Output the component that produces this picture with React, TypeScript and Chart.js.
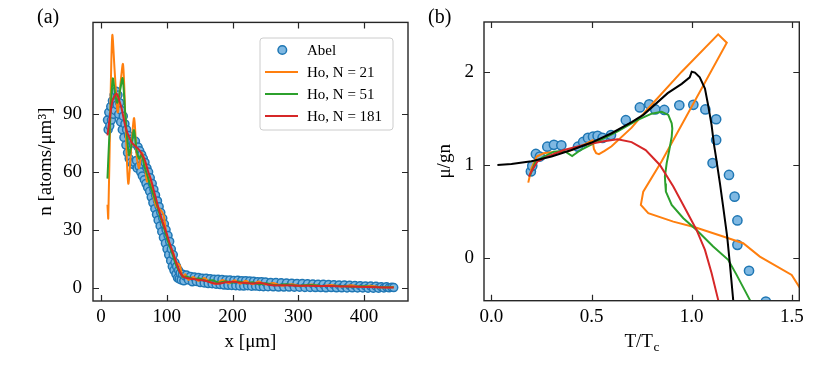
import React, { useEffect, useRef } from "react";
import { Chart, registerables } from "chart.js";
Chart.register(...registerables);

const FONT = "'Liberation Serif', 'Times New Roman', Times, serif";
const ORANGE = "#ff7f0e";
const GREEN = "#2ca02c";
const RED = "#d62728";
const BLUE_EDGE = "#1f77b4";
const BLUE_FILL = "#7fb8e2";
const FRAME = "#262626";

// ---------- Panel (a) data ----------
const abelX = [10, 11, 12, 13.5, 15, 16, 17.5, 19, 20, 21.5, 23, 24.5, 26, 27, 28.5, 30, 31, 32.5, 34, 35, 36.5, 38, 39, 40.5, 42, 43, 44.5, 46, 47, 48.5, 50, 51, 52.5, 54, 55, 56.5, 58, 59, 60.5, 62, 63, 64.5, 66, 67, 68.5, 70, 71, 72.5, 74, 75, 76.5, 78, 79, 80.5, 82, 83, 84.5, 86, 87, 88.5, 90, 91, 92.5, 94, 95, 96.5, 98, 99, 100.5, 102, 103, 104.5, 106, 107, 108.5, 110, 111, 112.5, 114, 115, 116.5, 118, 119, 120.5, 122, 124, 126, 128,
  130, 133, 136, 139, 142, 145, 148, 151, 154, 157, 160, 163, 166, 169, 172, 175, 178, 181, 184, 187, 190, 193, 196, 199, 202, 205, 208, 211, 214, 217, 220, 223, 226, 229, 232, 235, 238, 241, 244, 247, 250, 254, 258, 262, 266, 270, 274, 278, 282, 286, 290, 294, 298, 302, 306, 310, 314, 318, 322, 326, 330, 334, 338, 342, 346, 350, 354, 358, 362, 366, 370, 374, 378, 382, 386, 390, 394, 398, 402, 406, 410, 414, 418, 422, 426, 430, 434, 438, 442, 445];
const abelY = [87, 82, 91, 84, 94, 87, 97, 90, 100, 92, 102, 95, 100, 90, 96, 86, 92, 82, 89, 78, 85, 74, 82, 70, 79, 67, 77, 65, 76, 64, 75, 65, 76, 66, 62, 73, 63, 71, 60, 69, 58, 67, 56, 65, 54, 62, 52, 60, 50, 57, 47, 54, 44, 51, 41, 48, 38, 45, 35, 42, 32, 39, 29, 36, 26, 33, 23, 30, 20, 27, 17, 24, 14, 20, 11, 17, 9, 13, 7, 11, 5, 9, 4.5, 7.5, 4, 7, 3.5, 6,
  6.5, 4.0, 5.8, 3.0, 5.5, 3.2, 5.3, 2.6, 4.9, 2.4, 4.8, 2.1, 4.6, 2.0, 4.4, 1.8, 4.3, 1.6, 4.2, 1.3, 3.9, 1.2, 4.0, 1.1, 3.7, 1.0, 3.8, 0.9, 3.6, 0.8, 3.5, 1.0, 3.4, 0.7, 3.3, 0.8, 3.1, 0.6, 3.0, 0.5, 2.9, 0.5, 2.7, 0.4, 2.6, 0.3, 2.5, 0.3, 2.4, 0.3, 2.3, 0.2, 2.2, 0.2, 2.1, 0.1, 2.0, 0.1, 1.9, 0.0, 1.8, 0.0, 1.7, -0.1, 1.6, 0.0, 1.5, -0.1, 1.4, -0.1, 1.3, -0.2, 1.2, -0.1, 1.1, -0.2, 1.0, -0.2, 0.9, -0.3, 0.8, -0.3, 0.7, -0.3, 0.5, -0.2, 0.4, -0.1, 0.2, 0.0];

const ho21X = [10, 11.2, 14, 17.3, 21, 25.5, 29.5, 33.6, 37.5, 41.6, 46, 50.5, 54.5, 58, 62, 66, 70, 74, 79, 84, 89, 95, 100, 105, 110, 115, 120, 124, 128, 133, 140, 148, 157, 166, 175, 185, 195, 203, 212, 220, 230, 240, 250, 262, 275, 290, 305, 320, 335, 350, 365, 380, 395, 410, 425, 445];
const ho21Y = [43, 36, 85, 131, 112, 91, 105, 116, 85, 54, 72, 88, 68, 62, 70, 66, 55, 58, 49, 42, 41, 38, 27, 22, 18, 13, 11.5, 5.5, 7, 4, 5.5, 3.5, 5, 2.8, 2, 4, 2.2, 3.8, 2, 3.5, 1.8, 3.2, 1.6, 2.4, 1, 1.8, 0.8, 1.6, 0.7, 1.4, 0.6, 1.2, 0.5, 1.0, 0.2, 0.3];

const ho51X = [10, 13, 18, 21.5, 25, 29, 33, 37, 42.7, 46.5, 50.3, 54, 58, 62, 66, 70, 75, 80, 85, 90, 95, 100, 105, 110, 115, 120, 125, 130, 140, 150, 160, 170, 180, 190, 200, 210, 220, 230, 240, 250, 265, 280, 300, 320, 340, 360, 380, 400, 420, 445];
const ho51Y = [56.6, 80, 108.5, 101, 96, 102, 108.7, 90, 68.9, 74, 81.8, 72, 67, 69, 63, 59, 53, 48, 43, 37, 32, 26, 21, 16, 11, 8, 5.5, 5.8, 4.5, 4.8, 3.5, 3.8, 2.5, 3.3, 2.6, 3.2, 2.2, 2.8, 1.8, 2.3, 1.3, 1.8, 1.0, 1.4, 0.8, 1.0, 0.5, 0.7, 0.2, 0.2];

const ho181X = [10, 13, 17, 20.5, 24, 28, 31.6, 35, 39, 43, 46.8, 52, 56.8, 62, 67, 72, 77, 80, 87, 93, 100, 105, 110, 115, 120, 125, 130, 140, 150, 160, 176, 190, 201, 215, 230, 245, 260, 280, 300, 330, 360, 390, 420, 445];
const ho181Y = [79, 87, 96, 99.5, 100.7, 97, 92.9, 87, 81.5, 78, 75.4, 73.5, 72, 69.5, 66, 60, 55, 51, 42, 35, 28, 22.5, 17.6, 12.5, 8.1, 5.8, 5, 4.5, 4, 3.4, 2, 2.8, 3, 2.5, 2.2, 2.3, 1.2, 1.2, 1, 0.9, 0.7, 0.5, 0.2, 0];

const aXTicks = [0, 100, 200, 300, 400];
const aYTicks = [0, 30, 60, 90];
const seriesLabels = ["Abel", "Ho, N = 21", "Ho, N = 51", "Ho, N = 181"];

// ---------- Panel (b) data ----------
const bAbelX = [0.197, 0.204, 0.222, 0.242, 0.279, 0.312, 0.349, 0.432, 0.458, 0.482, 0.507, 0.53, 0.555, 0.597, 0.671, 0.741, 0.788, 0.818, 0.863, 0.938, 1.008, 1.068, 1.122, 1.122, 1.104, 1.186, 1.214, 1.228, 1.228, 1.286, 1.37];
const bAbelY = [0.93, 0.99, 1.118, 1.09, 1.196, 1.216, 1.21, 1.196, 1.247, 1.29, 1.303, 1.312, 1.29, 1.32, 1.48, 1.617, 1.65, 1.595, 1.59, 1.64, 1.645, 1.595, 1.49, 1.268, 1.02, 0.893, 0.66, 0.405, 0.143, -0.135, -0.465];

const b21X = [0.184, 0.2, 0.226, 0.26, 0.31, 0.375, 0.425, 0.475, 0.505, 0.512, 0.523, 0.537, 0.565, 0.6, 0.7, 0.78, 0.95, 1.132, 1.175, 0.85, 0.758, 0.746, 0.783, 0.908, 1.016, 1.157, 1.257, 1.34, 1.499, 1.54];
const b21Y = [0.81, 0.964, 1.09, 1.125, 1.14, 1.14, 1.18, 1.232, 1.265, 1.17, 1.125, 1.115, 1.15, 1.2, 1.4, 1.6, 2.0, 2.4, 2.31, 1.04, 0.714, 0.571, 0.482, 0.392, 0.332, 0.232, 0.16, 0.017, -0.179, -0.32];

const b51X = [0.192, 0.22, 0.262, 0.312, 0.362, 0.403, 0.445, 0.528, 0.628, 0.728, 0.8, 0.85, 0.883, 0.9, 0.903, 0.9, 0.888, 0.875, 0.866, 0.868, 0.871, 0.9, 0.958, 1.024, 1.107, 1.182, 1.224, 1.29, 1.3];
const b51Y = [0.882, 1.035, 1.09, 1.143, 1.153, 1.096, 1.16, 1.25, 1.357, 1.48, 1.55, 1.57, 1.536, 1.447, 1.39, 1.3, 1.16, 1.02, 0.875, 0.8, 0.714, 0.571, 0.428, 0.303, 0.125, -0.018, -0.179, -0.447, -0.49];

const b181X = [0.187, 0.204, 0.229, 0.279, 0.362, 0.462, 0.562, 0.63, 0.7, 0.77, 0.841, 0.908, 0.975, 1.024, 1.066, 1.099, 1.132, 1.14];
const b181Y = [0.875, 0.946, 1.035, 1.09, 1.16, 1.214, 1.255, 1.275, 1.245, 1.16, 1.0, 0.768, 0.5, 0.303, 0.089, -0.16, -0.447, -0.53];

const theoryX = [0.03, 0.1, 0.2, 0.3, 0.4, 0.5, 0.6, 0.7, 0.76, 0.88, 0.95, 0.99, 1.0, 1.016, 1.04, 1.066, 1.082, 1.099, 1.111, 1.12, 1.141, 1.157, 1.177, 1.19, 1.207, 1.22];
const theoryY = [1.0, 1.01, 1.04, 1.09, 1.16, 1.24, 1.34, 1.46, 1.54, 1.77, 1.87, 1.94, 2.0, 1.99, 1.94, 1.82, 1.64, 1.43, 1.22, 1.1, 0.8, 0.55, 0.23, -0.05, -0.45, -0.7];

const bXTicks = [0, 0.5, 1.0, 1.5];
const bYTicks = [0, 1, 2];

const pts = (xs: number[], ys: number[]) => xs.map((x, i) => ({ x, y: ys[i] }));

function frameAndTicks(chart: any, xTicks: number[], yTicks: number[]) {
  const { ctx, chartArea: a, scales } = chart;
  ctx.save();
  ctx.strokeStyle = FRAME;
  ctx.lineWidth = 1.2;
  ctx.beginPath();
  const L = 6;
  for (const v of xTicks) {
    const px = Math.round(scales.x.getPixelForValue(v)) + 0.5;
    ctx.moveTo(px, a.bottom);
    ctx.lineTo(px, a.bottom - L);
    ctx.moveTo(px, a.top);
    ctx.lineTo(px, a.top + L);
  }
  for (const v of yTicks) {
    const py = Math.round(scales.y.getPixelForValue(v)) + 0.5;
    ctx.moveTo(a.left, py);
    ctx.lineTo(a.left + L, py);
    ctx.moveTo(a.right, py);
    ctx.lineTo(a.right - L, py);
  }
  ctx.stroke();
  ctx.lineWidth = 1.4;
  ctx.strokeRect(a.left, a.top, a.right - a.left, a.bottom - a.top);
  ctx.restore();
}

function drawText(ctx: any, text: string, x: number, y: number, size: number, align = "center", rot = 0) {
  ctx.save();
  ctx.fillStyle = "#000";
  ctx.font = `${size}px ${FONT}`;
  ctx.textAlign = align;
  ctx.textBaseline = "alphabetic";
  ctx.translate(x, y);
  if (rot) ctx.rotate(rot);
  ctx.fillText(text, 0, 0);
  ctx.restore();
}

const plotAExtras = {
  id: "plotAExtras",
  afterDraw(chart: any) {
    const { ctx, chartArea: a } = chart;
    frameAndTicks(chart, aXTicks, aYTicks);
    drawText(ctx, "(a)", 37, 23, 20, "left");
    drawText(ctx, "x [μm]", (a.left + a.right) / 2, 346.5, 19);
    drawText(ctx, "n [atoms/μm³]", 51, (a.top + a.bottom) / 2, 19, "center", -Math.PI / 2);
    // legend
    ctx.save();
    const lx = 260, ly = 38, lw = 133, lh = 92, r = 3;
    ctx.beginPath();
    ctx.moveTo(lx + r, ly);
    ctx.arcTo(lx + lw, ly, lx + lw, ly + lh, r);
    ctx.arcTo(lx + lw, ly + lh, lx, ly + lh, r);
    ctx.arcTo(lx, ly + lh, lx, ly, r);
    ctx.arcTo(lx, ly, lx + lw, ly, r);
    ctx.closePath();
    ctx.fillStyle = "rgba(255,255,255,0.85)";
    ctx.fill();
    ctx.strokeStyle = "#cccccc";
    ctx.lineWidth = 1;
    ctx.stroke();
    const rows = [50, 72, 94, 116];
    const colors = [null, ORANGE, GREEN, RED];
    rows.forEach((y, i) => {
      if (i === 0) {
        ctx.beginPath();
        ctx.arc(282.3, y, 4.3, 0, Math.PI * 2);
        ctx.fillStyle = BLUE_FILL;
        ctx.fill();
        ctx.strokeStyle = BLUE_EDGE;
        ctx.lineWidth = 1.5;
        ctx.stroke();
      } else {
        ctx.beginPath();
        ctx.moveTo(265, y);
        ctx.lineTo(298, y);
        ctx.strokeStyle = colors[i] as string;
        ctx.lineWidth = 2;
        ctx.stroke();
      }
      ctx.fillStyle = "#000";
      ctx.font = `15px ${FONT}`;
      ctx.textAlign = "left";
      ctx.textBaseline = "middle";
      ctx.fillText(seriesLabels[i], 307, y + 1);
    });
    ctx.restore();
  },
};

const plotBExtras = {
  id: "plotBExtras",
  afterDraw(chart: any) {
    const { ctx, chartArea: a } = chart;
    frameAndTicks(chart, bXTicks, bYTicks);
    drawText(ctx, "(b)", 428 - 414, 23, 20, "left");
    drawText(ctx, "μ/gn", 450 - 414, (a.top + a.bottom) / 2, 19, "center", -Math.PI / 2);
    // T/T_c
    ctx.save();
    ctx.fillStyle = "#000";
    ctx.font = `19px ${FONT}`;
    const main = "T/T";
    const w1 = ctx.measureText(main).width;
    ctx.font = `13.5px ${FONT}`;
    const w2 = ctx.measureText("c").width;
    const cx = (a.left + a.right) / 2;
    const x0 = cx - (w1 + w2) / 2;
    ctx.textAlign = "left";
    ctx.textBaseline = "alphabetic";
    ctx.font = `19px ${FONT}`;
    ctx.fillText(main, x0, 346.5);
    ctx.font = `13.5px ${FONT}`;
    ctx.fillText("c", x0 + w1 + 0.5, 350.5);
    ctx.restore();
  },
};

function scaleOpts(min: number, max: number, ticks: number[], fmt: (v: number) => string, pad: number, fit: (s: any) => void) {
  return {
    type: "linear" as const,
    min,
    max,
    grid: { display: false, drawTicks: false },
    border: { display: false },
    ticks: {
      font: { family: FONT, size: 19 },
      color: "#000",
      padding: pad,
      maxRotation: 0,
      autoSkip: false,
      callback: (v: any) => fmt(Number(v)),
    },
    afterBuildTicks: (s: any) => {
      s.ticks = ticks.map((v) => ({ value: v }));
    },
    afterFit: fit,
  };
}

const lineDs = (data: any[], color: string, tension: number) => ({
  data,
  showLine: true,
  borderColor: color,
  backgroundColor: color,
  borderWidth: 2,
  pointRadius: 0,
  pointHoverRadius: 0,
  tension,
  clip: 0,
  fill: false,
});

const scatterDs = (data: any[], r: number) => ({
  data,
  showLine: false,
  pointRadius: r,
  pointHoverRadius: r,
  pointBackgroundColor: BLUE_FILL,
  pointBorderColor: BLUE_EDGE,
  pointBorderWidth: 1.5,
  clip: 0,
});

export default function App() {
  const refA = useRef<HTMLCanvasElement>(null);
  const refB = useRef<HTMLCanvasElement>(null);

  useEffect(() => {
    const chartA = new Chart(refA.current as HTMLCanvasElement, {
      type: "scatter",
      data: {
        datasets: [
          lineDs(pts(ho181X, ho181Y), RED, 0.3),
          lineDs(pts(ho51X, ho51Y), GREEN, 0.3),
          lineDs(pts(ho21X, ho21Y), ORANGE, 0.3),
          scatterDs(pts(abelX, abelY), 4),
        ] as any,
      },
      options: {
        responsive: false,
        animation: false,
        devicePixelRatio: 1,
        events: [],
        layout: { autoPadding: false, padding: { left: 0, right: 6, top: 22, bottom: 0 } },
        plugins: { legend: { display: false }, tooltip: { enabled: false } },
        scales: {
          x: scaleOpts(-12, 466.7, aXTicks, (v) => String(v), 4.5, (s: any) => { s.height = 83; }),
          y: scaleOpts(-6.95, 137.7, aYTicks, (v) => String(v), 11, (s: any) => { s.width = 93; }),
        } as any,
      },
      plugins: [plotAExtras],
    });

    const chartB = new Chart(refB.current as HTMLCanvasElement, {
      type: "scatter",
      data: {
        datasets: [
          lineDs(pts(theoryX, theoryY), "#000000", 0),
          lineDs(pts(b181X, b181Y), RED, 0),
          lineDs(pts(b51X, b51Y), GREEN, 0),
          lineDs(pts(b21X, b21Y), ORANGE, 0),
          scatterDs(pts(bAbelX, bAbelY), 4.6),
        ] as any,
      },
      options: {
        responsive: false,
        animation: false,
        devicePixelRatio: 1,
        events: [],
        layout: { autoPadding: false, padding: { left: 0, right: 29.7, top: 22, bottom: 0 } },
        plugins: { legend: { display: false }, tooltip: { enabled: false } },
        scales: {
          x: scaleOpts(-0.037, 1.537, bXTicks, (v) => v.toFixed(1), 4.5, (s: any) => { s.height = 83.3; }),
          y: scaleOpts(-0.456, 2.533, bYTicks, (v) => String(v), 10, (s: any) => { s.width = 70; }),
        } as any,
      },
      plugins: [plotBExtras],
    });

    return () => {
      chartA.destroy();
      chartB.destroy();
    };
  }, []);

  return (
    <div style={{ position: "fixed", left: 0, top: 0, width: 829, height: 384, background: "#fff" }}>
      <canvas ref={refA} width={414} height={384} style={{ position: "absolute", left: 0, top: 0, width: 414, height: 384 }} />
      <canvas ref={refB} width={415} height={384} style={{ position: "absolute", left: 414, top: 0, width: 415, height: 384 }} />
    </div>
  );
}
